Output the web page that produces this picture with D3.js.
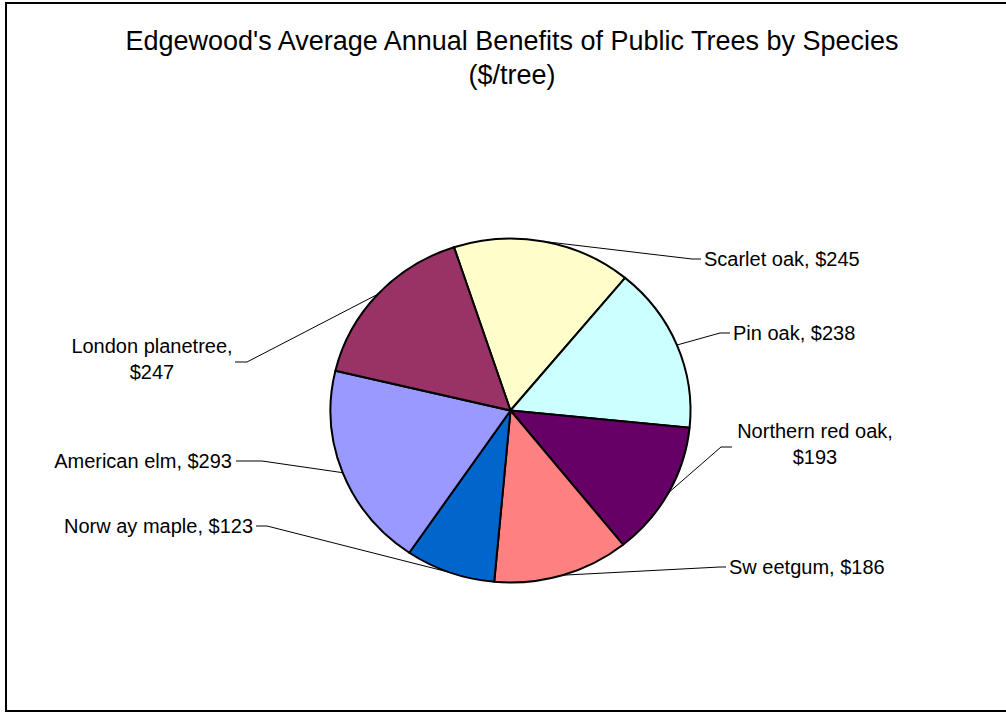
<!DOCTYPE html>
<html>
<head>
<meta charset="utf-8">
<script src="https://cdn.jsdelivr.net/npm/d3@7"></script>
<style>
  html, body { margin: 0; padding: 0; background: #fff; }
  svg { display: block; font-family: "Liberation Sans", Arial, sans-serif; }
</style>
</head>
<body>
<svg id="chart" width="1006" height="713"></svg>
<script>
// ---- data ----
const species = ["Scarlet oak", "Pin oak", "Northern red oak", "Sweetgum", "Norway maple", "American elm", "London planetree"];
const benefits = [245, 238, 193, 186, 123, 293, 247];
const colors = ["#FFFFCC", "#CCFFFF", "#660066", "#FF8080", "#0066CC", "#9999FF", "#993366"];
const titleLines = ["Edgewood's Average Annual Benefits of Public Trees by Species", "($/tree)"];
// label text as displayed (line breaks where the chart wraps them)
const labelLines = [
  ["Scarlet oak, $245"],
  ["Pin oak, $238"],
  ["Northern red oak,", "$193"],
  ["Sw eetgum, $186"],
  ["Norw ay maple, $123"],
  ["American elm, $293"],
  ["London planetree,", "$247"]
];

// ---- layout ----
const W = 1006, H = 713;
const cx = 510.5, cy = 410.5, rx = 180, ry = 172;
const startAngle = -18.3 * Math.PI / 180;
// label placement: elbow point, line end, text anchor, alignment (page coordinates)
const labelLayout = [
  { elbow: [692, 259], end: [701, 259], tx: 704, ty: 266, anchor: "start" },
  { elbow: [720, 333], end: [730, 333], tx: 733, ty: 340, anchor: "start" },
  { elbow: [721, 447], end: [732, 447], tx: 815, ty: 438, anchor: "middle" },
  { elbow: [720, 567], end: [726, 567], tx: 729, ty: 574, anchor: "start" },
  { elbow: [267, 526], end: [256, 526], tx: 253, ty: 533, anchor: "end" },
  { elbow: [262, 461], end: [236, 461], tx: 232, ty: 468, anchor: "end" },
  { elbow: [247, 362], end: [235, 362], tx: 152, ty: 353, anchor: "middle" }
];

const svg = d3.select("#chart");

// chart border
svg.append("rect")
  .attr("x", 6).attr("y", 3)
  .attr("width", 1010).attr("height", 708)
  .attr("fill", "#fff")
  .attr("stroke", "#000").attr("stroke-width", 2);

// title
const title = svg.append("text")
  .attr("x", 512).attr("y", 50)
  .attr("text-anchor", "middle")
  .attr("font-size", 27)
  .attr("fill", "#000");
titleLines.forEach((t, i) => {
  title.append("tspan").attr("x", 512).attr("y", 50 + i * 34).text(t);
});

// pie
const data = species.map((s, i) => ({ name: s, value: benefits[i], color: colors[i], i }));
const pie = d3.pie().value(d => d.value).sort(null)
  .startAngle(startAngle).endAngle(startAngle + 2 * Math.PI);
const arcs = pie(data);
const arc = d3.arc().innerRadius(0).outerRadius(rx);
const edgeArc = d3.arc().innerRadius(rx).outerRadius(rx);
const sy = ry / rx;

const g = svg.append("g").attr("transform", `translate(${cx},${cy}) scale(1,${sy})`);
g.selectAll("path.slice")
  .data(arcs)
  .join("path")
  .attr("class", "slice")
  .attr("d", arc)
  .attr("fill", d => d.data.color)
  .attr("stroke", "#000")
  .attr("stroke-width", 2)
  .attr("stroke-linejoin", "round")
  .attr("vector-effect", "non-scaling-stroke");

// leader lines
const lines = svg.append("g");
arcs.forEach((a, i) => {
  const c = edgeArc.centroid(a);
  const p0 = [cx + c[0], cy + c[1] * sy];
  const L = labelLayout[i];
  lines.append("polyline")
    .attr("points", [p0, L.elbow, L.end].map(p => p.join(",")).join(" "))
    .attr("fill", "none")
    .attr("stroke", "#000")
    .attr("stroke-width", 1);
});

// labels
arcs.forEach((a, i) => {
  const L = labelLayout[i];
  const t = svg.append("text")
    .attr("text-anchor", L.anchor)
    .attr("font-size", 20)
    .attr("fill", "#000");
  labelLines[i].forEach((ln, j) => {
    t.append("tspan").attr("x", L.tx).attr("y", L.ty + j * 26).text(ln);
  });
});
</script>
</body>
</html>
